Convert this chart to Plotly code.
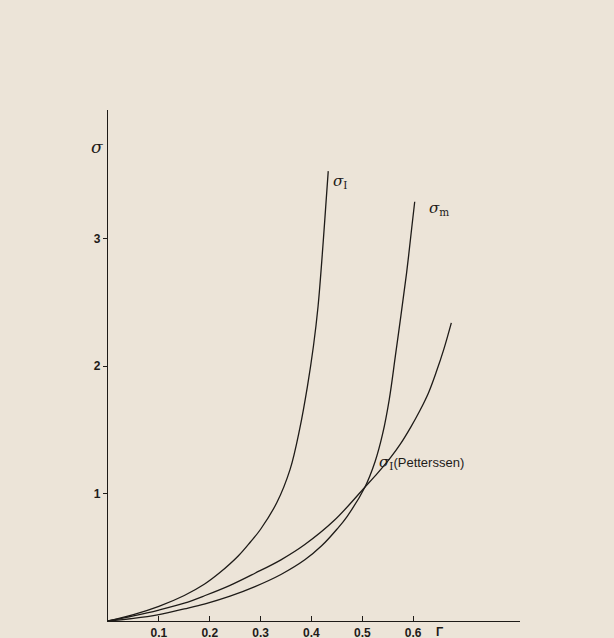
import plotly.graph_objects as go

# Gamma values and sigma values
gamma_I = [0.0, 0.05, 0.1, 0.15, 0.19, 0.22, 0.256, 0.28, 0.3, 0.332, 0.358, 0.377, 0.392, 0.404, 0.413, 0.423, 0.428, 0.433]
sigma_I = [0.0, 0.05, 0.115, 0.20, 0.29, 0.38, 0.51, 0.62, 0.72, 0.93, 1.19, 1.51, 1.84, 2.16, 2.47, 2.97, 3.25, 3.53]

gamma_m = [0.0, 0.05, 0.1, 0.15, 0.191, 0.24, 0.289, 0.34, 0.387, 0.42, 0.45, 0.47, 0.505, 0.525, 0.54, 0.553, 0.565, 0.576, 0.587, 0.597, 0.603]
sigma_m = [0.0, 0.02, 0.05, 0.095, 0.135, 0.195, 0.27, 0.365, 0.48, 0.59, 0.72, 0.82, 1.05, 1.25, 1.47, 1.74, 2.08, 2.40, 2.73, 3.08, 3.29]

gamma_P = [0.0, 0.05, 0.1, 0.15, 0.191, 0.24, 0.289, 0.34, 0.387, 0.445, 0.505, 0.53, 0.555, 0.575, 0.595, 0.613, 0.63, 0.645, 0.66, 0.675]
sigma_P = [0.0, 0.04, 0.086, 0.14, 0.20, 0.28, 0.375, 0.48, 0.60, 0.79, 1.05, 1.16, 1.28, 1.39, 1.52, 1.65, 1.79, 1.95, 2.13, 2.34]

x_ticks = [0.1, 0.2, 0.3, 0.4, 0.5, 0.6]
x_tick_text = ["0.1", "0.2", "0.3", "0.4", "0.5", "0.6"]
y_ticks = [1, 2, 3]
y_tick_text = ["1", "2", "3"]

BG = "#ece4d8"
INK = "#1e1b18"

fig = go.Figure()
for gx, sy in [(gamma_I, sigma_I), (gamma_m, sigma_m), (gamma_P, sigma_P)]:
    fig.add_trace(go.Scatter(x=gx, y=sy, mode="lines",
                             line=dict(color=INK, width=1.3, shape="spline", smoothing=1.0),
                             showlegend=False, hoverinfo="skip"))

tickfont = dict(family="Liberation Sans Narrow, Arial Narrow, Liberation Sans, Arial",
                size=12, color=INK, weight="bold")

fig.update_layout(
    width=614, height=638,
    paper_bgcolor=BG, plot_bgcolor=BG,
    margin=dict(l=108, r=94, t=110, b=17),
    xaxis=dict(range=[0, 0.81], tickvals=x_ticks, ticktext=x_tick_text,
               ticks="inside", ticklen=5, tickcolor=INK, tickwidth=1,
               showline=True, linecolor=INK, linewidth=1.3,
               showgrid=False, zeroline=False, automargin=False,
               tickfont=tickfont),
    yaxis=dict(range=[0, 4.01], tickvals=y_ticks, ticktext=y_tick_text,
               ticks="outside", ticklen=4, tickcolor=INK, tickwidth=1,
               showline=True, linecolor=INK, linewidth=1.3,
               showgrid=False, zeroline=False, automargin=False,
               tickfont=tickfont),
    font=dict(family="Liberation Sans, Arial", color=INK),
)

sigfont = dict(family="DejaVu Serif, Liberation Serif, serif", size=15, color=INK)

fig.add_annotation(x=-0.027, y=3.72, xref="paper", yref="y", text="<i>σ</i>", showarrow=False,
                   font=dict(family="DejaVu Serif, serif", size=17, color=INK), xanchor="center")
fig.add_annotation(x=0.652, y=-0.021, xref="x", yref="paper", text="Γ", showarrow=False,
                   font=dict(family="Liberation Sans, Arial", size=12, color=INK, weight="bold"),
                   yanchor="middle")
fig.add_annotation(x=0.438, y=3.45, text="<i>σ</i><sub>I</sub>", showarrow=False,
                   font=sigfont, xanchor="left")
fig.add_annotation(x=0.627, y=3.24, text="<i>σ</i><sub>m</sub>", showarrow=False,
                   font=sigfont, xanchor="left")
fig.add_annotation(x=0.528, y=1.24,
                   text="<i>σ</i><sub>I</sub><span style='font-family:Liberation Sans, Arial;font-size:13px'>(Petterssen)</span>",
                   showarrow=False, font=sigfont, xanchor="left")

fig.write_html("out.html", config={"displayModeBar": False},
               post_script="document.body.style.margin='0';document.body.style.background='%s';" % BG)
